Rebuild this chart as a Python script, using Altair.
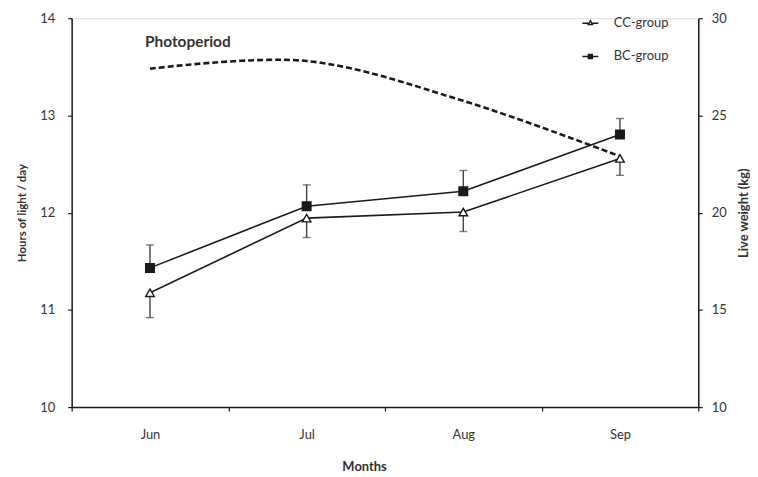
import altair as alt
import pandas as pd

months = ["Jun", "Jul", "Aug", "Sep"]
photoperiod = [13.48, 13.56, 13.15, 12.58]
cc_values = [15.88, 19.72, 20.03, 22.79]
cc_err = [1.28, 1.00, 1.00, 0.87]
bc_values = [17.16, 20.33, 21.10, 24.02]
bc_err = [1.18, 1.10, 1.07, 0.82]
groups = ["CC-group", "BC-group"]

FONT = "Lato"
INK = "#1a1a1a"
TXT = "#333333"

photo_df = pd.DataFrame({"month": months, "hours": photoperiod})

rows = []
for m, v, e in zip(months, cc_values, cc_err):
    rows.append({"month": m, "group": "CC-group", "weight": v, "end": v - e})
for m, v, e in zip(months, bc_values, bc_err):
    rows.append({"month": m, "group": "BC-group", "weight": v, "end": v + e})
wdf = pd.DataFrame(rows)

x_enc = alt.X(
    "month:N",
    sort=months,
    scale=alt.Scale(domain=months, paddingInner=0, paddingOuter=0),
    axis=alt.Axis(
        title="Months", tickBand="extent", labelAngle=0, tickSize=4,
        labelPadding=18, titlePadding=19, titleX=294, domainColor=INK, domainWidth=1.5,
        tickColor=INK, tickWidth=1.2, labelColor=TXT, titleColor=TXT,
        labelFont=FONT, titleFont=FONT, labelFontSize=13, titleFontSize=13,
        titleFontWeight="bold", labelFontWeight="normal",
    ),
)

left_y = alt.Y(
    "hours:Q",
    scale=alt.Scale(domain=[10, 14], nice=False),
    axis=alt.Axis(
        title="Hours of light / day", values=[10, 11, 12, 13, 14], format="d",
        tickSize=4, labelPadding=13, titlePadding=12, grid=False,
        domainColor=INK, domainWidth=1.5, tickColor=INK, tickWidth=1.2,
        labelColor=TXT, titleColor=TXT, labelFont=FONT, titleFont=FONT,
        labelFontSize=13, titleFontSize=11.5, titleFontWeight="bold",
        labelFontWeight="normal",
    ),
)

photo_line = alt.Chart(photo_df).mark_line(
    color=INK, strokeWidth=2.6, strokeDash=[6, 3], interpolate="catmull-rom"
).encode(x=x_enc, y=left_y)

photo_label = alt.Chart(pd.DataFrame({"month": ["Jun"], "hours": [13.75], "label": ["Photoperiod"]})).mark_text(
    align="left", dx=-5, font=FONT, fontSize=15.5, fontWeight="bold", color=TXT
).encode(x=alt.X("month:N", sort=months), y=alt.Y("hours:Q"), text="label:N")

left = alt.layer(photo_line, photo_label)

right_scale = alt.Scale(domain=[10, 30], nice=False)
right_y = alt.Y(
    "weight:Q",
    scale=right_scale,
    axis=alt.Axis(
        orient="right", title="Live weight (kg)", values=[10, 15, 20, 25, 30],
        tickSize=4, labelPadding=9, titlePadding=11, grid=False,
        titleAngle=270, titleBaseline="top",
        domainColor=INK, domainWidth=1.5, tickColor=INK, tickWidth=1.2,
        labelColor=TXT, titleColor=TXT, labelFont=FONT, titleFont=FONT,
        labelFontSize=13, titleFontSize=13, titleFontWeight="bold",
        labelFontWeight="normal",
    ),
)

base_r = alt.Chart(wdf)

lines = base_r.mark_line(color=INK, strokeWidth=1.6).encode(
    x=alt.X("month:N", sort=months), y=right_y, detail="group:N"
)

err_rule = base_r.mark_rule(color="#444444", strokeWidth=1.4).encode(
    x=alt.X("month:N", sort=months), y=alt.Y("weight:Q", scale=right_scale), y2="end:Q"
)

err_cap = base_r.mark_tick(color="#444444", thickness=1.4, size=8).encode(
    x=alt.X("month:N", sort=months), y=alt.Y("end:Q", scale=right_scale)
)

fill_scale = alt.Scale(domain=groups, range=["white", INK])

points = base_r.mark_point(filled=False, size=75, strokeWidth=1.4, opacity=1).encode(
    x=alt.X("month:N", sort=months),
    y=alt.Y("weight:Q", scale=right_scale),
    shape=alt.Shape(
        "group:N",
        scale=alt.Scale(domain=groups, range=["triangle-up", "square"]),
        legend=None,
    ),
    fill=alt.Fill("group:N", scale=fill_scale, legend=None),
    stroke=alt.value(INK),
)

# legend-only layer: symbols drawn as marker with a line through it
tri_line = "M-2,0.15H-0.55M0.55,0.15H2M0,-0.5L0.55,0.45L-0.55,0.45Z"
sq_line = "M-2,0H-0.5M0.5,0H2M-0.5,-0.5H0.5V0.5H-0.5Z"
leg = alt.Legend(
    title=None, orient="none", legendX=515, legendY=-2,
    rowPadding=20, labelFont=FONT, labelFontSize=13,
    labelFontWeight="normal", labelColor=TXT, symbolSize=64,
    symbolStrokeWidth=1.4, labelOffset=17,
)
legend_layer = base_r.transform_filter("false").mark_point(
    filled=False, size=64, strokeWidth=1.4, opacity=1
).encode(
    x=alt.X("month:N", sort=months),
    y=alt.Y("weight:Q", scale=right_scale),
    shape=alt.Shape(
        "group:N",
        scale=alt.Scale(domain=groups, range=[tri_line, sq_line]),
        legend=leg,
    ),
    fill=alt.Fill("group:N", scale=alt.Scale(domain=groups, range=["white", INK]), legend=leg),
    stroke=alt.value(INK),
)

right = alt.layer(lines, err_rule, err_cap, points, legend_layer).resolve_scale(
    shape="independent", fill="independent"
)

chart = alt.layer(left, right).resolve_scale(y="independent").properties(
    width=630,
    height=391,
    padding={"left": 64, "top": 9, "right": 52, "bottom": 68},
    autosize=alt.AutoSizeParams(type="none"),
).configure_view(stroke=None).configure(background="white")

chart.save("out.html", embed_options={"renderer": "svg", "actions": False})
